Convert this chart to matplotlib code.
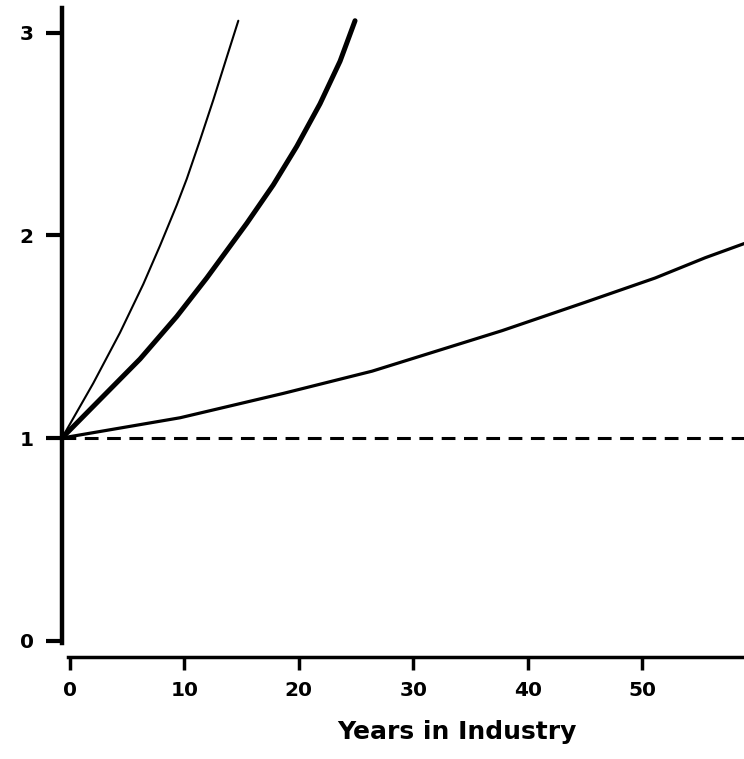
import matplotlib
matplotlib.use("Agg")
import matplotlib.pyplot as plt

# readings of the three growth curves (years, relative level)
fast_years = [-0.70, 2.03, 4.37, 6.41, 7.87, 9.33, 10.21, 11.36, 12.53, 13.70, 14.71]
fast_level = [1.00, 1.27, 1.52, 1.76, 1.95, 2.15, 2.28, 2.47, 2.67, 2.88, 3.06]

mid_years = [-0.70, 6.12, 9.33, 11.95, 15.45, 17.77, 19.82, 21.85, 23.60, 24.91]
mid_level = [1.00, 1.39, 1.60, 1.79, 2.06, 2.25, 2.44, 2.65, 2.86, 3.06]

slow_years = [-0.70, 9.62, 18.62, 26.40, 37.76, 45.02, 51.14, 55.51, 58.92]
slow_level = [1.00, 1.10, 1.22, 1.33, 1.53, 1.67, 1.79, 1.89, 1.96]

baseline = 1.0
x_ticks = [0, 10, 20, 30, 40, 50]
y_ticks = [0, 1, 2, 3]

fig = plt.figure(figsize=(7.44, 7.59), dpi=100)
ax = fig.add_axes([0.0833, 0.1344, 0.9167, 0.8551])

ax.plot(fast_years, fast_level, color="black", lw=1.5,
        solid_capstyle="round", solid_joinstyle="round")
ax.plot(mid_years, mid_level, color="black", lw=3.6,
        solid_capstyle="round", solid_joinstyle="round")
ax.plot(slow_years, slow_level, color="black", lw=2.3,
        solid_capstyle="round", solid_joinstyle="round")
ax.axhline(baseline, color="black", lw=2.2, linestyle=(0, (4.5, 2.8)))

ax.set_xlim(-0.7, 58.9)
ax.set_ylim(-0.081, 3.123)

for side in ("top", "right"):
    ax.spines[side].set_visible(False)
ax.spines["left"].set_linewidth(3.2)
ax.spines["left"].set_bounds(-0.01, 3.123)
ax.spines["bottom"].set_linewidth(2.5)
ax.spines["bottom"].set_bounds(-0.2, 58.9)

ax.set_xticks(x_ticks)
ax.set_yticks(y_ticks)
ax.tick_params(axis="y", direction="out", length=11.5, width=3, pad=9)
ax.tick_params(axis="x", direction="out", length=9, width=2.5, pad=8)
for lab in ax.get_xticklabels() + ax.get_yticklabels():
    lab.set_fontweight("bold")
    lab.set_fontsize(14.5)

ax.set_xlabel("Years in Industry", fontsize=18, fontweight="bold")
ax.xaxis.set_label_coords(0.579, -0.097)

fig.savefig("out.png", dpi=100)
